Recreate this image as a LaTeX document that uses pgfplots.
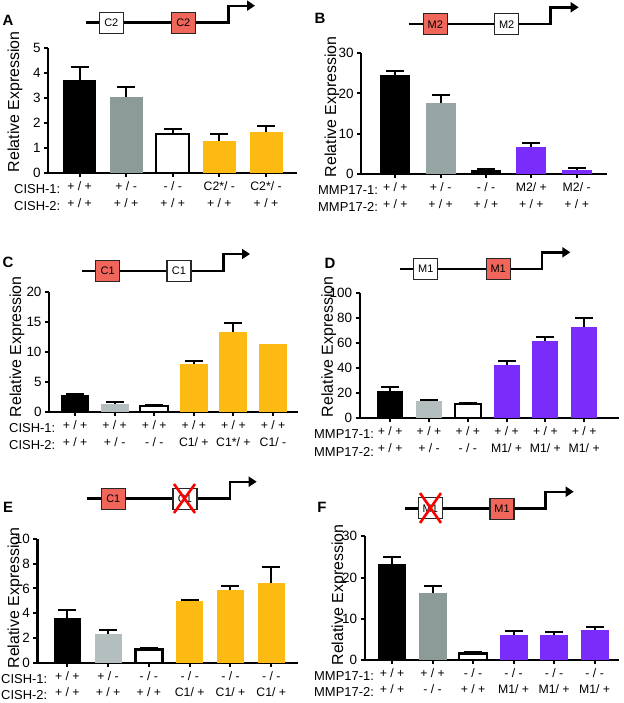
\documentclass[border=0pt]{standalone}
\usepackage{fontspec}
\setmainfont{Liberation Sans}
\usepackage{pgfplots}
\pgfplotsset{compat=1.18}
\usetikzlibrary{arrows.meta}

\definecolor{grayA}{RGB}{140,154,152}
\definecolor{grayB}{RGB}{152,165,165}
\definecolor{grayL}{RGB}{180,190,190}
\definecolor{yel}{RGB}{253,186,18}
\definecolor{pur}{RGB}{122,45,250}
\definecolor{boxred}{RGB}{240,102,90}

\newcommand\tl{\fontsize{12.3}{17}\selectfont}
\newcommand\rl{\fontsize{13}{17}\selectfont}
\newcommand\nl{\fontsize{13.5}{16}\selectfont}
\newcommand\yl{\fontsize{16}{18}\selectfont}
\newcommand\pl{\fontsize{15}{18}\selectfont\bfseries}
\newcommand\bx{\fontsize{11}{12}\selectfont}

\pgfplotsset{
  panel/.style={
    scale only axis, anchor=south west, clip=false,
    axis x line=bottom, axis y line=left,
    axis line style={-, line width=2.4bp},
    ymin=0, ybar, bar shift=0pt,
    tick align=outside, major tick length=4bp,
    tick style={line width=2bp, black},
    /pgf/number format/assume math mode=true,
    yticklabel style={font=\nl},
    xticklabel style={font=\tl, align=center, anchor=north, yshift=-1.5bp},
    error bars/y dir=plus, error bars/y explicit,
    error bars/error bar style={line width=2bp, black, solid},
    error bars/error mark options={rotate=90, mark size=9bp, line width=2bp, black, solid},
  },
  blk/.style={fill=black, draw=none},
  gA/.style={fill=grayA, draw=none},
  gB/.style={fill=grayB, draw=none},
  gL/.style={fill=grayL, draw=none},
  wht/.style={fill=white, draw=black, line width=2.4bp},
  ylw/.style={fill=yel, draw=none},
  prp/.style={fill=pur, draw=none},
}
\tikzset{
  gene/.style={line width=2.4bp, line join=miter, -{Triangle[length=8bp,width=10bp]}},
  wbox/.style={draw=black!85, line width=1.2bp, fill=white, minimum width=24bp, minimum height=21bp, inner sep=0pt, font=\bx},
  rbox/.style={wbox, fill=boxred},
  cross/.style={red, line width=2.6bp},
}
\newcommand\rowlab[3]{\node[anchor=west, font=\rl, inner sep=0pt] at (#1bp,-#2bp) {#3};}
\newcommand\ylab[2]{\node[rotate=90, font=\yl, inner sep=0pt] at (#1bp,-#2bp) {Relative Expression};}

\begin{document}
\begin{tikzpicture}
\useasboundingbox (0,0) rectangle (624bp,-703bp);

% ---------------- A ----------------
\node[font=\pl] at (8bp,-20bp) {A};
\draw[gene] (86bp,-22.5bp) -- (228.3bp,-22.5bp) -- (228.3bp,-5.7bp) -- (255bp,-5.7bp);
\node[wbox] at (111.3bp,-23bp) {C2};
\node[rbox] at (183.3bp,-23bp) {C2};
\begin{axis}[panel, at={(48bp,-172.7bp)}, width=249bp, height=124.4bp,
  xmin=-0.676, xmax=4.665, ymax=5, ytick={0,1,...,5}, xtick={0,...,4}, bar width=33bp,
  xticklabels={{+ / +\\+ / +},{+ / -\\+ / +},{- / -\\+ / +},{C2*/ -\\+ / +},{C2*/ -\\+ / +}}]
\addplot[blk] coordinates {(0,3.73) +- (0,0.53)};
\addplot[gA]  coordinates {(1,3.03) +- (0,0.40)};
\addplot[wht] coordinates {(2,1.55) +- (0,0.19)};
\addplot[ylw] coordinates {(3,1.29) +- (0,0.25)};
\addplot[ylw] coordinates {(4,1.62) +- (0,0.27)};
\end{axis}
\ylab{15}{101.7}
\rowlab{14}{189}{CISH-1:}
\rowlab{14}{206}{CISH-2:}

% ---------------- B ----------------
\node[font=\pl] at (320bp,-18bp) {B};
\draw[gene] (408.7bp,-24bp) -- (550.3bp,-24bp) -- (550.3bp,-7.3bp) -- (578.7bp,-7.3bp);
\node[rbox] at (435.3bp,-24.3bp) {M2};
\node[wbox] at (506.7bp,-24.3bp) {M2};
\begin{axis}[panel, at={(361bp,-173.7bp)}, width=246bp, height=120.4bp,
  xmin=-0.756, xmax=4.668, ymax=30, ytick={0,10,20,30}, xtick={0,...,4}, bar width=30bp,
  xticklabels={{+ / +\\+ / +},{+ / -\\+ / +},{- / -\\+ / +},{M2/ +\\+ / +},{M2/ -\\+ / +}}]
\addplot[blk] coordinates {(0,24.6) +- (0,1.1)};
\addplot[gB]  coordinates {(1,17.5) +- (0,2.1)};
\addplot[blk] coordinates {(2,0.9) +- (0,0.2)};
\addplot[prp] coordinates {(3,6.65) +- (0,1.05)};
\addplot[prp] coordinates {(4,1.0) +- (0,0.3)};
\end{axis}
\ylab{332}{106.7}
\rowlab{318}{190}{MMP17-1:}
\rowlab{318}{207}{MMP17-2:}

% ---------------- C ----------------
\node[font=\pl] at (8bp,-262bp) {C};
\draw[gene] (81.7bp,-270.7bp) -- (223.3bp,-270.7bp) -- (223.3bp,-254bp) -- (250bp,-254bp);
\node[rbox] at (107.7bp,-271.2bp) {C1};
\node[wbox] at (179bp,-271.2bp) {C1};
\begin{axis}[panel, at={(49bp,-412bp)}, width=249bp, height=119.7bp,
  xmin=-0.657, xmax=5.631, ymax=20, ytick={0,5,...,20}, xtick={0,...,5}, bar width=28bp,
  xticklabels={{+ / +\\+ / +},{+ / +\\+ / -},{+ / +\\- / -},{+ / +\\C1/ +},{+ / +\\C1*/ +},{+ / +\\C1/ -}}]
\addplot[blk] coordinates {(0,2.9) +- (0,0.06)};
\addplot[gL]  coordinates {(1,1.34) +- (0,0.26)};
\addplot[wht] coordinates {(2,1.05) +- (0,0.15)};
\addplot[ylw] coordinates {(3,8.1) +- (0,0.35)};
\addplot[ylw] coordinates {(4,13.4) +- (0,1.4)};
\addplot[ylw, error bars/y dir=none] coordinates {(5,11.4)};
\end{axis}
\ylab{17}{346.7}
\rowlab{9}{428.5}{CISH-1:}
\rowlab{9}{445.5}{CISH-2:}

% ---------------- D ----------------
\node[font=\pl] at (330bp,-263bp) {D};
\draw[gene] (400.3bp,-269bp) -- (542bp,-269bp) -- (542bp,-252.3bp) -- (570.3bp,-252.3bp);
\node[wbox] at (425.8bp,-269.2bp) {M1};
\node[rbox] at (498.2bp,-269.2bp) {M1};
\begin{axis}[panel, at={(359.7bp,-418bp)}, width=259bp, height=124.7bp,
  xmin=-0.786, xmax=5.889, ymax=100, ytick={0,20,...,100}, xtick={0,...,5}, bar width=26bp,
  xticklabels={{+ / +\\+ / +},{+ / +\\+ / -},{+ / +\\- / -},{+ / +\\M1/ +},{+ / +\\M1/ +},{+ / +\\M1/ +}}]
\addplot[blk] coordinates {(0,21.9) +- (0,3.2)};
\addplot[gL]  coordinates {(1,13.4) +- (0,1.3)};
\addplot[wht] coordinates {(2,11.3) +- (0,0.6)};
\addplot[prp] coordinates {(3,42.5) +- (0,3.2)};
\addplot[prp] coordinates {(4,62.0) +- (0,2.7)};
\addplot[prp] coordinates {(5,72.7) +- (0,7.8)};
\end{axis}
\ylab{328.7}{346.7}
\rowlab{314}{434.5}{MMP17-1:}
\rowlab{314}{451.5}{MMP17-2:}

% ---------------- E ----------------
\node[font=\pl] at (8bp,-507bp) {E};
\draw[gene] (87.3bp,-498.3bp) -- (230bp,-498.3bp) -- (230bp,-481.7bp) -- (256.7bp,-481.7bp);
\node[rbox] at (113.3bp,-499.2bp) {C1};
\node[wbox] at (185bp,-499.2bp) {C1};
\draw[cross] (174bp,-484bp) -- (195bp,-513bp) (195bp,-484bp) -- (174bp,-513bp);
\begin{axis}[panel, at={(37.3bp,-662.7bp)}, width=260.4bp, height=123.7bp,
  xmin=-0.735, xmax=5.647, ymax=10, ytick={0,2,...,10}, xtick={0,...,5}, bar width=27bp,
  xticklabels={{+ / +\\+ / +},{+ / -\\+ / +},{- / -\\+ / +},{- / -\\C1/ +},{- / -\\C1/ +},{- / -\\C1/ +}},
  xticklabel style={font=\fontsize{12.3}{16}\selectfont}]
\addplot[blk] coordinates {(0,3.64) +- (0,0.62)};
\addplot[gL]  coordinates {(1,2.35) +- (0,0.26)};
\addplot[wht] coordinates {(2,1.07) +- (0,0.10)};
\addplot[ylw] coordinates {(3,4.99) +- (0,0.08)};
\addplot[ylw] coordinates {(4,5.85) +- (0,0.32)};
\addplot[ylw] coordinates {(5,6.44) +- (0,1.27)};
\end{axis}
\ylab{15}{598}
\rowlab{1}{679.5}{CISH-1:}
\rowlab{1}{695.5}{CISH-2:}

% ---------------- F ----------------
\node[font=\pl] at (322bp,-507bp) {F};
\draw[gene] (405.3bp,-508.3bp) -- (545.3bp,-508.3bp) -- (545.3bp,-491.7bp) -- (573.7bp,-491.7bp);
\node[wbox] at (430.3bp,-508.3bp) {M1};
\node[rbox] at (502bp,-508.8bp) {M1};
\draw[cross] (420bp,-493bp) -- (441bp,-523bp) (441bp,-493bp) -- (420bp,-523bp);
\begin{axis}[panel, at={(364.7bp,-660bp)}, width=254bp, height=123.7bp,
  xmin=-0.674, xmax=5.593, ymax=30, ytick={0,10,20,30}, xtick={0,...,5}, bar width=28bp,
  xticklabels={{+ / +\\+ / +},{+ / +\\- / -},{- / -\\+ / +},{- / -\\M1/ +},{- / -\\M1/ +},{- / -\\M1/ +}},
  xticklabel style={font=\fontsize{12.3}{15.5}\selectfont}]
\addplot[blk] coordinates {(0,23.3) +- (0,1.7)};
\addplot[gA]  coordinates {(1,16.3) +- (0,1.6)};
\addplot[wht] coordinates {(2,1.6) +- (0,0.3)};
\addplot[prp] coordinates {(3,6.0) +- (0,1.1)};
\addplot[prp] coordinates {(4,6.1) +- (0,0.7)};
\addplot[prp] coordinates {(5,7.35) +- (0,0.75)};
\end{axis}
\ylab{339}{595}
\rowlab{314}{676.5}{MMP17-1:}
\rowlab{314}{692}{MMP17-2:}
\end{tikzpicture}
\end{document}
